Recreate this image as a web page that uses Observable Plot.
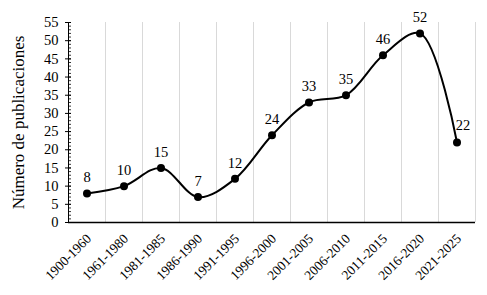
<!DOCTYPE html>
<html><head><meta charset="utf-8">
<script src="https://cdn.jsdelivr.net/npm/d3@7"></script>
<script src="https://cdn.jsdelivr.net/npm/@observablehq/plot@0.6"></script>
<style>
body{margin:0;background:#fff}
#chart svg, #chart svg text {font-family: 'Liberation Serif', 'Times New Roman', serif !important;}
</style>
</head><body><div id="chart"></div>
<script>
const categories = ["1900-1960","1961-1980","1981-1985","1986-1990","1991-1995","1996-2000","2001-2005","2006-2010","2011-2015","2016-2020","2021-2025"];
const values = [8,10,15,7,12,24,33,35,46,52,22];
const yMajorTicks = d3.range(0, 56, 5);
const yMinorTicks = d3.range(0, 56, 1);
const yTitle = "Número de publicaciones";

const data = categories.map((c, i) => ({i, c, v: values[i]}));
const boundaries = categories.map((c, i) => i + 0.5);
const last = data.length - 1;
const innerW = 487 - 68 - 12;
const serif = "Liberation Serif";

const chart = Plot.plot({
  width: 487, height: 295,
  marginLeft: 68, marginRight: 12, marginTop: 22, marginBottom: 73,
  style: {fontFamily: "'Liberation Serif', 'Times New Roman', serif", fontSize: "14px", background: "#fff", color: "#000"},
  x: {domain: [-0.5, categories.length - 0.5], axis: null},
  y: {domain: [0, 55], axis: null},
  marks: [
    Plot.ruleX(boundaries, {stroke: "#d9d9d9", strokeWidth: 1}),
    Plot.ruleX([-0.5], {stroke: "#000", strokeWidth: 1}),
    Plot.tickY(yMinorTicks, {y: d => d, insetRight: innerW - 3, stroke: "#000", strokeWidth: 0.8}),
    Plot.tickY(yMajorTicks, {y: d => d, insetRight: innerW - 6, dx: -3, stroke: "#000", strokeWidth: 1}),
    Plot.text(yMajorTicks, {y: d => d, text: d => String(d), frameAnchor: "left", textAnchor: "end", dx: -10, fontSize: 14.5, fontFamily: serif, fill: "#000"}),
    Plot.text(data, {x: "i", text: "c", frameAnchor: "bottom", textAnchor: "end", rotate: -45, dx: 5, dy: 17, fontSize: 13.5, fontFamily: serif, fill: "#000"}),
    Plot.ruleY([0], {stroke: "#000", strokeWidth: 1.5}),
    Plot.text([yTitle], {frameAnchor: "left", textAnchor: "middle", rotate: -90, dx: -50, fontSize: 17, fontFamily: serif, fill: "#000"}),
    Plot.line(data, {x: "i", y: "v", curve: "catmull-rom", stroke: "#000", strokeWidth: 2}),
    Plot.dot(data, {x: "i", y: "v", r: 4, fill: "#000"}),
    Plot.text(data.filter(d => d.i !== last), {x: "i", y: "v", text: d => String(d.v), dy: -16, fontSize: 14.5, fontFamily: serif, fill: "#000"}),
    Plot.text(data.filter(d => d.i === last), {x: "i", y: "v", text: d => String(d.v), dy: -17, dx: 6, fontSize: 14.5, fontFamily: serif, fill: "#000"})
  ]
});
document.getElementById("chart").appendChild(chart);
</script>
</body></html>
